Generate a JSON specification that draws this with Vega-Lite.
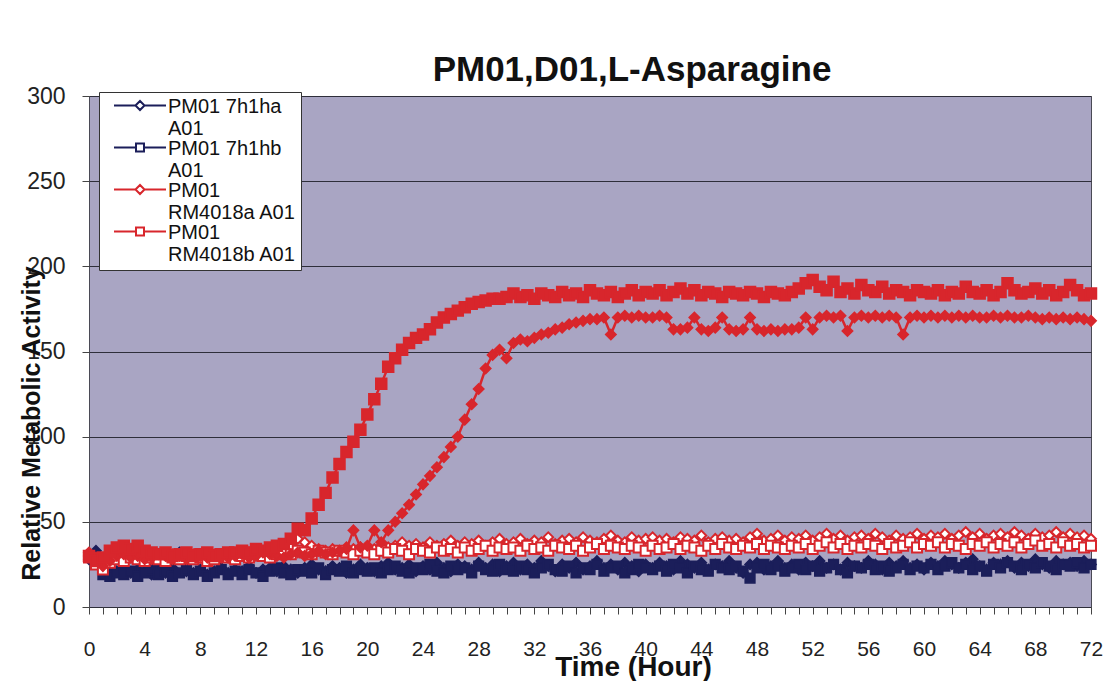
{
"$schema": "https://vega.github.io/schema/vega-lite/v6.json",
"width": 1002, "height": 511,
"autosize": {"type": "none"},
"padding": {"left": 89, "top": 96, "right": 18, "bottom": 74},
"background": "white",
"title": {"text": "PM01,D01,L-Asparagine", "fontSize": 35, "font": "Liberation Sans", "fontWeight": "bold", "color": "#111111", "anchor": "middle", "dx": 42, "offset": -31, "baseline": "alphabetic"},
"config": {
  "view": {"fill": "#A9A5C3", "stroke": "#4a4a55", "strokeWidth": 1},
  "font": "Liberation Sans",
  "legend": {"orient": "none", "legendX": 10, "legendY": -4, "labelFontSize": 20, "labelColor": "#111111", "labelLimit": 0, "symbolSize": 100, "symbolStrokeWidth": 2, "symbolFillColor": "white", "symbolOpacity": 1,
    "symbolOffset": 26, "labelOffset": 18, "padding": 5, "fillColor": "white", "strokeColor": "#333333", "rowPadding": -1}
},
"data": {"values": [
{"s":"A","t":0,"v":28},{"s":"A","t":0.5,"v":33},{"s":"A","t":1,"v":22},{"s":"A","t":1.5,"v":20},{"s":"A","t":2,"v":21},{"s":"A","t":2.5,"v":23},{"s":"A","t":3,"v":20},{"s":"A","t":3.5,"v":22},{"s":"A","t":4,"v":21},{"s":"A","t":4.5,"v":19},{"s":"A","t":5,"v":22},{"s":"A","t":5.5,"v":20},{"s":"A","t":6,"v":23},{"s":"A","t":6.5,"v":32},{"s":"A","t":7,"v":21},{"s":"A","t":7.5,"v":20},{"s":"A","t":8,"v":22},{"s":"A","t":8.5,"v":19},{"s":"A","t":9,"v":21},{"s":"A","t":9.5,"v":23},{"s":"A","t":10,"v":20},
{"s":"A","t":10.5,"v":22},{"s":"A","t":11,"v":21},{"s":"A","t":11.5,"v":24},{"s":"A","t":12,"v":20},{"s":"A","t":12.5,"v":22},{"s":"A","t":13,"v":23},{"s":"A","t":13.5,"v":21},{"s":"A","t":14,"v":24},{"s":"A","t":14.5,"v":22},{"s":"A","t":15,"v":20},{"s":"A","t":15.5,"v":23},{"s":"A","t":16,"v":25},{"s":"A","t":16.5,"v":22},{"s":"A","t":17,"v":21},{"s":"A","t":17.5,"v":24},{"s":"A","t":18,"v":23},{"s":"A","t":18.5,"v":20},{"s":"A","t":19,"v":22},{"s":"A","t":19.5,"v":25},{"s":"A","t":20,"v":23},
{"s":"A","t":20.5,"v":21},{"s":"A","t":21,"v":24},{"s":"A","t":21.5,"v":26},{"s":"A","t":22,"v":22},{"s":"A","t":22.5,"v":23},{"s":"A","t":23,"v":25},{"s":"A","t":23.5,"v":21},{"s":"A","t":24,"v":24},{"s":"A","t":24.5,"v":22},{"s":"A","t":25,"v":26},{"s":"A","t":25.5,"v":23},{"s":"A","t":26,"v":21},{"s":"A","t":26.5,"v":25},{"s":"A","t":27,"v":24},{"s":"A","t":27.5,"v":22},{"s":"A","t":28,"v":26},{"s":"A","t":28.5,"v":23},{"s":"A","t":29,"v":25},{"s":"A","t":29.5,"v":21},{"s":"A","t":30,"v":24},
{"s":"A","t":30.5,"v":26},{"s":"A","t":31,"v":22},{"s":"A","t":31.5,"v":25},{"s":"A","t":32,"v":23},{"s":"A","t":32.5,"v":27},{"s":"A","t":33,"v":24},{"s":"A","t":33.5,"v":21},{"s":"A","t":34,"v":25},{"s":"A","t":34.5,"v":23},{"s":"A","t":35,"v":26},{"s":"A","t":35.5,"v":22},{"s":"A","t":36,"v":24},{"s":"A","t":36.5,"v":27},{"s":"A","t":37,"v":23},{"s":"A","t":37.5,"v":25},{"s":"A","t":38,"v":22},{"s":"A","t":38.5,"v":26},{"s":"A","t":39,"v":24},{"s":"A","t":39.5,"v":21},{"s":"A","t":40,"v":25},
{"s":"A","t":40.5,"v":23},{"s":"A","t":41,"v":26},{"s":"A","t":41.5,"v":24},{"s":"A","t":42,"v":22},{"s":"A","t":42.5,"v":27},{"s":"A","t":43,"v":25},{"s":"A","t":43.5,"v":23},{"s":"A","t":44,"v":26},{"s":"A","t":44.5,"v":22},{"s":"A","t":45,"v":25},{"s":"A","t":45.5,"v":24},{"s":"A","t":46,"v":27},{"s":"A","t":46.5,"v":23},{"s":"A","t":47,"v":20},{"s":"A","t":47.5,"v":25},{"s":"A","t":48,"v":26},{"s":"A","t":48.5,"v":22},{"s":"A","t":49,"v":24},{"s":"A","t":49.5,"v":27},{"s":"A","t":50,"v":23},
{"s":"A","t":50.5,"v":25},{"s":"A","t":51,"v":22},{"s":"A","t":51.5,"v":26},{"s":"A","t":52,"v":24},{"s":"A","t":52.5,"v":27},{"s":"A","t":53,"v":23},{"s":"A","t":53.5,"v":25},{"s":"A","t":54,"v":22},{"s":"A","t":54.5,"v":26},{"s":"A","t":55,"v":24},{"s":"A","t":55.5,"v":23},{"s":"A","t":56,"v":27},{"s":"A","t":56.5,"v":25},{"s":"A","t":57,"v":22},{"s":"A","t":57.5,"v":26},{"s":"A","t":58,"v":24},{"s":"A","t":58.5,"v":27},{"s":"A","t":59,"v":23},{"s":"A","t":59.5,"v":25},{"s":"A","t":60,"v":22},
{"s":"A","t":60.5,"v":26},{"s":"A","t":61,"v":24},{"s":"A","t":61.5,"v":27},{"s":"A","t":62,"v":25},{"s":"A","t":62.5,"v":23},{"s":"A","t":63,"v":26},{"s":"A","t":63.5,"v":28},{"s":"A","t":64,"v":24},{"s":"A","t":64.5,"v":22},{"s":"A","t":65,"v":26},{"s":"A","t":65.5,"v":25},{"s":"A","t":66,"v":27},{"s":"A","t":66.5,"v":23},{"s":"A","t":67,"v":26},{"s":"A","t":67.5,"v":24},{"s":"A","t":68,"v":28},{"s":"A","t":68.5,"v":25},{"s":"A","t":69,"v":23},{"s":"A","t":69.5,"v":27},{"s":"A","t":70,"v":25},
{"s":"A","t":70.5,"v":26},{"s":"A","t":71,"v":24},{"s":"A","t":71.5,"v":27},{"s":"A","t":72,"v":25},
{"s":"B","t":0,"v":30},{"s":"B","t":0.5,"v":26},{"s":"B","t":1,"v":19},{"s":"B","t":1.5,"v":18},{"s":"B","t":2,"v":20},{"s":"B","t":2.5,"v":19},{"s":"B","t":3,"v":21},{"s":"B","t":3.5,"v":18},{"s":"B","t":4,"v":20},{"s":"B","t":4.5,"v":22},{"s":"B","t":5,"v":19},{"s":"B","t":5.5,"v":21},{"s":"B","t":6,"v":18},{"s":"B","t":6.5,"v":20},{"s":"B","t":7,"v":22},{"s":"B","t":7.5,"v":19},{"s":"B","t":8,"v":21},{"s":"B","t":8.5,"v":18},{"s":"B","t":9,"v":20},{"s":"B","t":9.5,"v":22},{"s":"B","t":10,"v":19},
{"s":"B","t":10.5,"v":21},{"s":"B","t":11,"v":19},{"s":"B","t":11.5,"v":22},{"s":"B","t":12,"v":20},{"s":"B","t":12.5,"v":18},{"s":"B","t":13,"v":21},{"s":"B","t":13.5,"v":23},{"s":"B","t":14,"v":20},{"s":"B","t":14.5,"v":19},{"s":"B","t":15,"v":22},{"s":"B","t":15.5,"v":21},{"s":"B","t":16,"v":20},{"s":"B","t":16.5,"v":23},{"s":"B","t":17,"v":19},{"s":"B","t":17.5,"v":22},{"s":"B","t":18,"v":21},{"s":"B","t":18.5,"v":24},{"s":"B","t":19,"v":20},{"s":"B","t":19.5,"v":22},{"s":"B","t":20,"v":21},
{"s":"B","t":20.5,"v":23},{"s":"B","t":21,"v":20},{"s":"B","t":21.5,"v":22},{"s":"B","t":22,"v":24},{"s":"B","t":22.5,"v":21},{"s":"B","t":23,"v":20},{"s":"B","t":23.5,"v":23},{"s":"B","t":24,"v":22},{"s":"B","t":24.5,"v":25},{"s":"B","t":25,"v":21},{"s":"B","t":25.5,"v":20},{"s":"B","t":26,"v":24},{"s":"B","t":26.5,"v":22},{"s":"B","t":27,"v":23},{"s":"B","t":27.5,"v":20},{"s":"B","t":28,"v":24},{"s":"B","t":28.5,"v":22},{"s":"B","t":29,"v":21},{"s":"B","t":29.5,"v":25},{"s":"B","t":30,"v":22},
{"s":"B","t":30.5,"v":21},{"s":"B","t":31,"v":24},{"s":"B","t":31.5,"v":22},{"s":"B","t":32,"v":20},{"s":"B","t":32.5,"v":23},{"s":"B","t":33,"v":25},{"s":"B","t":33.5,"v":22},{"s":"B","t":34,"v":21},{"s":"B","t":34.5,"v":24},{"s":"B","t":35,"v":20},{"s":"B","t":35.5,"v":23},{"s":"B","t":36,"v":22},{"s":"B","t":36.5,"v":25},{"s":"B","t":37,"v":21},{"s":"B","t":37.5,"v":23},{"s":"B","t":38,"v":24},{"s":"B","t":38.5,"v":20},{"s":"B","t":39,"v":22},{"s":"B","t":39.5,"v":25},{"s":"B","t":40,"v":23},
{"s":"B","t":40.5,"v":22},{"s":"B","t":41,"v":24},{"s":"B","t":41.5,"v":21},{"s":"B","t":42,"v":25},{"s":"B","t":42.5,"v":23},{"s":"B","t":43,"v":20},{"s":"B","t":43.5,"v":24},{"s":"B","t":44,"v":22},{"s":"B","t":44.5,"v":21},{"s":"B","t":45,"v":25},{"s":"B","t":45.5,"v":23},{"s":"B","t":46,"v":22},{"s":"B","t":46.5,"v":24},{"s":"B","t":47,"v":21},{"s":"B","t":47.5,"v":17},{"s":"B","t":48,"v":23},{"s":"B","t":48.5,"v":25},{"s":"B","t":49,"v":22},{"s":"B","t":49.5,"v":24},{"s":"B","t":50,"v":21},
{"s":"B","t":50.5,"v":23},{"s":"B","t":51,"v":25},{"s":"B","t":51.5,"v":22},{"s":"B","t":52,"v":24},{"s":"B","t":52.5,"v":21},{"s":"B","t":53,"v":23},{"s":"B","t":53.5,"v":25},{"s":"B","t":54,"v":22},{"s":"B","t":54.5,"v":20},{"s":"B","t":55,"v":24},{"s":"B","t":55.5,"v":23},{"s":"B","t":56,"v":25},{"s":"B","t":56.5,"v":22},{"s":"B","t":57,"v":24},{"s":"B","t":57.5,"v":21},{"s":"B","t":58,"v":23},{"s":"B","t":58.5,"v":25},{"s":"B","t":59,"v":22},{"s":"B","t":59.5,"v":24},{"s":"B","t":60,"v":23},
{"s":"B","t":60.5,"v":25},{"s":"B","t":61,"v":22},{"s":"B","t":61.5,"v":24},{"s":"B","t":62,"v":26},{"s":"B","t":62.5,"v":23},{"s":"B","t":63,"v":25},{"s":"B","t":63.5,"v":22},{"s":"B","t":64,"v":24},{"s":"B","t":64.5,"v":21},{"s":"B","t":65,"v":25},{"s":"B","t":65.5,"v":23},{"s":"B","t":66,"v":26},{"s":"B","t":66.5,"v":24},{"s":"B","t":67,"v":22},{"s":"B","t":67.5,"v":25},{"s":"B","t":68,"v":23},{"s":"B","t":68.5,"v":26},{"s":"B","t":69,"v":24},{"s":"B","t":69.5,"v":22},{"s":"B","t":70,"v":25},
{"s":"B","t":70.5,"v":24},{"s":"B","t":71,"v":26},{"s":"B","t":71.5,"v":23},{"s":"B","t":72,"v":25},
{"s":"C","t":0,"v":32},{"s":"C","t":0.5,"v":29},{"s":"C","t":1,"v":24},{"s":"C","t":1.5,"v":27},{"s":"C","t":2,"v":30},{"s":"C","t":2.5,"v":31},{"s":"C","t":3,"v":29},{"s":"C","t":3.5,"v":30},{"s":"C","t":4,"v":28},{"s":"C","t":4.5,"v":29},{"s":"C","t":5,"v":31},{"s":"C","t":5.5,"v":30},{"s":"C","t":6,"v":28},{"s":"C","t":6.5,"v":30},{"s":"C","t":7,"v":29},{"s":"C","t":7.5,"v":31},{"s":"C","t":8,"v":30},{"s":"C","t":8.5,"v":29},{"s":"C","t":9,"v":31},{"s":"C","t":9.5,"v":30},{"s":"C","t":10,"v":29},
{"s":"C","t":10.5,"v":30},{"s":"C","t":11,"v":31},{"s":"C","t":11.5,"v":29},{"s":"C","t":12,"v":30},{"s":"C","t":12.5,"v":32},{"s":"C","t":13,"v":31},{"s":"C","t":13.5,"v":30},{"s":"C","t":14,"v":29},{"s":"C","t":14.5,"v":31},{"s":"C","t":15,"v":32},{"s":"C","t":15.5,"v":30},{"s":"C","t":16,"v":31},{"s":"C","t":16.5,"v":33},{"s":"C","t":17,"v":31},{"s":"C","t":17.5,"v":32},{"s":"C","t":18,"v":33},{"s":"C","t":18.5,"v":34},{"s":"C","t":19,"v":45},{"s":"C","t":19.5,"v":35},{"s":"C","t":20,"v":36},
{"s":"C","t":20.5,"v":45},{"s":"C","t":21,"v":38},{"s":"C","t":21.5,"v":45},{"s":"C","t":22,"v":50},{"s":"C","t":22.5,"v":55},{"s":"C","t":23,"v":60},{"s":"C","t":23.5,"v":66},{"s":"C","t":24,"v":72},{"s":"C","t":24.5,"v":77},{"s":"C","t":25,"v":82},{"s":"C","t":25.5,"v":88},{"s":"C","t":26,"v":94},{"s":"C","t":26.5,"v":100},{"s":"C","t":27,"v":110},{"s":"C","t":27.5,"v":119},{"s":"C","t":28,"v":128},{"s":"C","t":28.5,"v":140},{"s":"C","t":29,"v":148},{"s":"C","t":29.5,"v":151},{"s":"C","t":30,"v":146},
{"s":"C","t":30.5,"v":155},{"s":"C","t":31,"v":157},{"s":"C","t":31.5,"v":156},{"s":"C","t":32,"v":158},{"s":"C","t":32.5,"v":160},{"s":"C","t":33,"v":161},{"s":"C","t":33.5,"v":163},{"s":"C","t":34,"v":164},{"s":"C","t":34.5,"v":166},{"s":"C","t":35,"v":167},{"s":"C","t":35.5,"v":168},{"s":"C","t":36,"v":169},{"s":"C","t":36.5,"v":169},{"s":"C","t":37,"v":170},{"s":"C","t":37.5,"v":160},{"s":"C","t":38,"v":170},{"s":"C","t":38.5,"v":171},{"s":"C","t":39,"v":170},{"s":"C","t":39.5,"v":171},{"s":"C","t":40,"v":170},
{"s":"C","t":40.5,"v":170},{"s":"C","t":41,"v":171},{"s":"C","t":41.5,"v":170},{"s":"C","t":42,"v":163},{"s":"C","t":42.5,"v":163},{"s":"C","t":43,"v":164},{"s":"C","t":43.5,"v":170},{"s":"C","t":44,"v":163},{"s":"C","t":44.5,"v":162},{"s":"C","t":45,"v":164},{"s":"C","t":45.5,"v":170},{"s":"C","t":46,"v":163},{"s":"C","t":46.5,"v":162},{"s":"C","t":47,"v":163},{"s":"C","t":47.5,"v":170},{"s":"C","t":48,"v":163},{"s":"C","t":48.5,"v":162},{"s":"C","t":49,"v":163},{"s":"C","t":49.5,"v":162},{"s":"C","t":50,"v":163},
{"s":"C","t":50.5,"v":163},{"s":"C","t":51,"v":164},{"s":"C","t":51.5,"v":170},{"s":"C","t":52,"v":163},{"s":"C","t":52.5,"v":170},{"s":"C","t":53,"v":171},{"s":"C","t":53.5,"v":170},{"s":"C","t":54,"v":171},{"s":"C","t":54.5,"v":162},{"s":"C","t":55,"v":170},{"s":"C","t":55.5,"v":171},{"s":"C","t":56,"v":170},{"s":"C","t":56.5,"v":171},{"s":"C","t":57,"v":170},{"s":"C","t":57.5,"v":171},{"s":"C","t":58,"v":170},{"s":"C","t":58.5,"v":160},{"s":"C","t":59,"v":170},{"s":"C","t":59.5,"v":171},{"s":"C","t":60,"v":170},
{"s":"C","t":60.5,"v":171},{"s":"C","t":61,"v":170},{"s":"C","t":61.5,"v":171},{"s":"C","t":62,"v":170},{"s":"C","t":62.5,"v":171},{"s":"C","t":63,"v":170},{"s":"C","t":63.5,"v":171},{"s":"C","t":64,"v":170},{"s":"C","t":64.5,"v":170},{"s":"C","t":65,"v":171},{"s":"C","t":65.5,"v":170},{"s":"C","t":66,"v":171},{"s":"C","t":66.5,"v":170},{"s":"C","t":67,"v":170},{"s":"C","t":67.5,"v":171},{"s":"C","t":68,"v":170},{"s":"C","t":68.5,"v":169},{"s":"C","t":69,"v":170},{"s":"C","t":69.5,"v":169},{"s":"C","t":70,"v":170},
{"s":"C","t":70.5,"v":169},{"s":"C","t":71,"v":170},{"s":"C","t":71.5,"v":169},{"s":"C","t":72,"v":168},
{"s":"D","t":0,"v":30},{"s":"D","t":0.5,"v":27},{"s":"D","t":1,"v":29},{"s":"D","t":1.5,"v":33},{"s":"D","t":2,"v":35},{"s":"D","t":2.5,"v":36},{"s":"D","t":3,"v":34},{"s":"D","t":3.5,"v":36},{"s":"D","t":4,"v":33},{"s":"D","t":4.5,"v":32},{"s":"D","t":5,"v":31},{"s":"D","t":5.5,"v":32},{"s":"D","t":6,"v":30},{"s":"D","t":6.5,"v":31},{"s":"D","t":7,"v":32},{"s":"D","t":7.5,"v":30},{"s":"D","t":8,"v":31},{"s":"D","t":8.5,"v":32},{"s":"D","t":9,"v":30},{"s":"D","t":9.5,"v":31},{"s":"D","t":10,"v":32},
{"s":"D","t":10.5,"v":32},{"s":"D","t":11,"v":33},{"s":"D","t":11.5,"v":32},{"s":"D","t":12,"v":34},{"s":"D","t":12.5,"v":33},{"s":"D","t":13,"v":35},{"s":"D","t":13.5,"v":36},{"s":"D","t":14,"v":37},{"s":"D","t":14.5,"v":40},{"s":"D","t":15,"v":46},{"s":"D","t":15.5,"v":45},{"s":"D","t":16,"v":52},{"s":"D","t":16.5,"v":60},{"s":"D","t":17,"v":67},{"s":"D","t":17.5,"v":76},{"s":"D","t":18,"v":84},{"s":"D","t":18.5,"v":91},{"s":"D","t":19,"v":97},{"s":"D","t":19.5,"v":104},{"s":"D","t":20,"v":113},
{"s":"D","t":20.5,"v":122},{"s":"D","t":21,"v":131},{"s":"D","t":21.5,"v":141},{"s":"D","t":22,"v":146},{"s":"D","t":22.5,"v":151},{"s":"D","t":23,"v":155},{"s":"D","t":23.5,"v":158},{"s":"D","t":24,"v":160},{"s":"D","t":24.5,"v":163},{"s":"D","t":25,"v":167},{"s":"D","t":25.5,"v":170},{"s":"D","t":26,"v":172},{"s":"D","t":26.5,"v":174},{"s":"D","t":27,"v":176},{"s":"D","t":27.5,"v":178},{"s":"D","t":28,"v":179},{"s":"D","t":28.5,"v":180},{"s":"D","t":29,"v":181},{"s":"D","t":29.5,"v":181},{"s":"D","t":30,"v":182},
{"s":"D","t":30.5,"v":184},{"s":"D","t":31,"v":182},{"s":"D","t":31.5,"v":183},{"s":"D","t":32,"v":181},{"s":"D","t":32.5,"v":184},{"s":"D","t":33,"v":183},{"s":"D","t":33.5,"v":182},{"s":"D","t":34,"v":185},{"s":"D","t":34.5,"v":183},{"s":"D","t":35,"v":184},{"s":"D","t":35.5,"v":182},{"s":"D","t":36,"v":186},{"s":"D","t":36.5,"v":184},{"s":"D","t":37,"v":183},{"s":"D","t":37.5,"v":185},{"s":"D","t":38,"v":182},{"s":"D","t":38.5,"v":184},{"s":"D","t":39,"v":186},{"s":"D","t":39.5,"v":183},{"s":"D","t":40,"v":185},
{"s":"D","t":40.5,"v":184},{"s":"D","t":41,"v":186},{"s":"D","t":41.5,"v":183},{"s":"D","t":42,"v":185},{"s":"D","t":42.5,"v":187},{"s":"D","t":43,"v":184},{"s":"D","t":43.5,"v":186},{"s":"D","t":44,"v":183},{"s":"D","t":44.5,"v":185},{"s":"D","t":45,"v":184},{"s":"D","t":45.5,"v":182},{"s":"D","t":46,"v":185},{"s":"D","t":46.5,"v":184},{"s":"D","t":47,"v":183},{"s":"D","t":47.5,"v":185},{"s":"D","t":48,"v":184},{"s":"D","t":48.5,"v":182},{"s":"D","t":49,"v":185},{"s":"D","t":49.5,"v":184},{"s":"D","t":50,"v":183},
{"s":"D","t":50.5,"v":185},{"s":"D","t":51,"v":187},{"s":"D","t":51.5,"v":190},{"s":"D","t":52,"v":192},{"s":"D","t":52.5,"v":188},{"s":"D","t":53,"v":186},{"s":"D","t":53.5,"v":191},{"s":"D","t":54,"v":185},{"s":"D","t":54.5,"v":187},{"s":"D","t":55,"v":184},{"s":"D","t":55.5,"v":189},{"s":"D","t":56,"v":186},{"s":"D","t":56.5,"v":185},{"s":"D","t":57,"v":188},{"s":"D","t":57.5,"v":184},{"s":"D","t":58,"v":186},{"s":"D","t":58.5,"v":185},{"s":"D","t":59,"v":183},{"s":"D","t":59.5,"v":186},{"s":"D","t":60,"v":185},
{"s":"D","t":60.5,"v":184},{"s":"D","t":61,"v":186},{"s":"D","t":61.5,"v":183},{"s":"D","t":62,"v":185},{"s":"D","t":62.5,"v":184},{"s":"D","t":63,"v":188},{"s":"D","t":63.5,"v":185},{"s":"D","t":64,"v":184},{"s":"D","t":64.5,"v":186},{"s":"D","t":65,"v":183},{"s":"D","t":65.5,"v":185},{"s":"D","t":66,"v":190},{"s":"D","t":66.5,"v":186},{"s":"D","t":67,"v":184},{"s":"D","t":67.5,"v":185},{"s":"D","t":68,"v":187},{"s":"D","t":68.5,"v":184},{"s":"D","t":69,"v":186},{"s":"D","t":69.5,"v":183},{"s":"D","t":70,"v":185},
{"s":"D","t":70.5,"v":189},{"s":"D","t":71,"v":186},{"s":"D","t":71.5,"v":183},{"s":"D","t":72,"v":184},
{"s":"E","t":0,"v":30},{"s":"E","t":0.5,"v":27},{"s":"E","t":1,"v":25},{"s":"E","t":1.5,"v":29},{"s":"E","t":2,"v":32},{"s":"E","t":2.5,"v":30},{"s":"E","t":3,"v":31},{"s":"E","t":3.5,"v":29},{"s":"E","t":4,"v":30},{"s":"E","t":4.5,"v":28},{"s":"E","t":5,"v":30},{"s":"E","t":5.5,"v":29},{"s":"E","t":6,"v":31},{"s":"E","t":6.5,"v":30},{"s":"E","t":7,"v":28},{"s":"E","t":7.5,"v":30},{"s":"E","t":8,"v":29},{"s":"E","t":8.5,"v":31},{"s":"E","t":9,"v":30},{"s":"E","t":9.5,"v":29},{"s":"E","t":10,"v":31},
{"s":"E","t":10.5,"v":30},{"s":"E","t":11,"v":31},{"s":"E","t":11.5,"v":32},{"s":"E","t":12,"v":31},{"s":"E","t":12.5,"v":33},{"s":"E","t":13,"v":32},{"s":"E","t":13.5,"v":34},{"s":"E","t":14,"v":33},{"s":"E","t":14.5,"v":35},{"s":"E","t":15,"v":40},{"s":"E","t":15.5,"v":38},{"s":"E","t":16,"v":36},{"s":"E","t":16.5,"v":34},{"s":"E","t":17,"v":33},{"s":"E","t":17.5,"v":34},{"s":"E","t":18,"v":33},{"s":"E","t":18.5,"v":35},{"s":"E","t":19,"v":34},{"s":"E","t":19.5,"v":35},{"s":"E","t":20,"v":34},
{"s":"E","t":20.5,"v":34},{"s":"E","t":21,"v":36},{"s":"E","t":21.5,"v":35},{"s":"E","t":22,"v":36},{"s":"E","t":22.5,"v":38},{"s":"E","t":23,"v":36},{"s":"E","t":23.5,"v":37},{"s":"E","t":24,"v":35},{"s":"E","t":24.5,"v":38},{"s":"E","t":25,"v":36},{"s":"E","t":25.5,"v":37},{"s":"E","t":26,"v":39},{"s":"E","t":26.5,"v":36},{"s":"E","t":27,"v":38},{"s":"E","t":27.5,"v":37},{"s":"E","t":28,"v":39},{"s":"E","t":28.5,"v":36},{"s":"E","t":29,"v":38},{"s":"E","t":29.5,"v":40},{"s":"E","t":30,"v":37},
{"s":"E","t":30.5,"v":38},{"s":"E","t":31,"v":40},{"s":"E","t":31.5,"v":37},{"s":"E","t":32,"v":39},{"s":"E","t":32.5,"v":38},{"s":"E","t":33,"v":41},{"s":"E","t":33.5,"v":37},{"s":"E","t":34,"v":39},{"s":"E","t":34.5,"v":40},{"s":"E","t":35,"v":38},{"s":"E","t":35.5,"v":41},{"s":"E","t":36,"v":39},{"s":"E","t":36.5,"v":38},{"s":"E","t":37,"v":40},{"s":"E","t":37.5,"v":42},{"s":"E","t":38,"v":39},{"s":"E","t":38.5,"v":38},{"s":"E","t":39,"v":41},{"s":"E","t":39.5,"v":39},{"s":"E","t":40,"v":40},
{"s":"E","t":40.5,"v":41},{"s":"E","t":41,"v":39},{"s":"E","t":41.5,"v":40},{"s":"E","t":42,"v":38},{"s":"E","t":42.5,"v":41},{"s":"E","t":43,"v":40},{"s":"E","t":43.5,"v":39},{"s":"E","t":44,"v":42},{"s":"E","t":44.5,"v":38},{"s":"E","t":45,"v":40},{"s":"E","t":45.5,"v":41},{"s":"E","t":46,"v":39},{"s":"E","t":46.5,"v":40},{"s":"E","t":47,"v":38},{"s":"E","t":47.5,"v":41},{"s":"E","t":48,"v":43},{"s":"E","t":48.5,"v":39},{"s":"E","t":49,"v":40},{"s":"E","t":49.5,"v":42},{"s":"E","t":50,"v":39},
{"s":"E","t":50.5,"v":41},{"s":"E","t":51,"v":40},{"s":"E","t":51.5,"v":42},{"s":"E","t":52,"v":39},{"s":"E","t":52.5,"v":41},{"s":"E","t":53,"v":43},{"s":"E","t":53.5,"v":40},{"s":"E","t":54,"v":42},{"s":"E","t":54.5,"v":39},{"s":"E","t":55,"v":41},{"s":"E","t":55.5,"v":42},{"s":"E","t":56,"v":40},{"s":"E","t":56.5,"v":43},{"s":"E","t":57,"v":41},{"s":"E","t":57.5,"v":39},{"s":"E","t":58,"v":42},{"s":"E","t":58.5,"v":40},{"s":"E","t":59,"v":41},{"s":"E","t":59.5,"v":43},{"s":"E","t":60,"v":40},
{"s":"E","t":60.5,"v":42},{"s":"E","t":61,"v":41},{"s":"E","t":61.5,"v":43},{"s":"E","t":62,"v":40},{"s":"E","t":62.5,"v":42},{"s":"E","t":63,"v":44},{"s":"E","t":63.5,"v":41},{"s":"E","t":64,"v":43},{"s":"E","t":64.5,"v":40},{"s":"E","t":65,"v":42},{"s":"E","t":65.5,"v":43},{"s":"E","t":66,"v":41},{"s":"E","t":66.5,"v":44},{"s":"E","t":67,"v":42},{"s":"E","t":67.5,"v":40},{"s":"E","t":68,"v":43},{"s":"E","t":68.5,"v":41},{"s":"E","t":69,"v":42},{"s":"E","t":69.5,"v":44},{"s":"E","t":70,"v":41},
{"s":"E","t":70.5,"v":43},{"s":"E","t":71,"v":41},{"s":"E","t":71.5,"v":42},{"s":"E","t":72,"v":40},
{"s":"F","t":0,"v":29},{"s":"F","t":0.5,"v":25},{"s":"F","t":1,"v":22},{"s":"F","t":1.5,"v":26},{"s":"F","t":2,"v":28},{"s":"F","t":2.5,"v":27},{"s":"F","t":3,"v":29},{"s":"F","t":3.5,"v":28},{"s":"F","t":4,"v":27},{"s":"F","t":4.5,"v":29},{"s":"F","t":5,"v":28},{"s":"F","t":5.5,"v":27},{"s":"F","t":6,"v":29},{"s":"F","t":6.5,"v":28},{"s":"F","t":7,"v":30},{"s":"F","t":7.5,"v":28},{"s":"F","t":8,"v":29},{"s":"F","t":8.5,"v":27},{"s":"F","t":9,"v":28},{"s":"F","t":9.5,"v":30},{"s":"F","t":10,"v":29},
{"s":"F","t":10.5,"v":28},{"s":"F","t":11,"v":30},{"s":"F","t":11.5,"v":29},{"s":"F","t":12,"v":31},{"s":"F","t":12.5,"v":30},{"s":"F","t":13,"v":29},{"s":"F","t":13.5,"v":31},{"s":"F","t":14,"v":32},{"s":"F","t":14.5,"v":31},{"s":"F","t":15,"v":33},{"s":"F","t":15.5,"v":32},{"s":"F","t":16,"v":31},{"s":"F","t":16.5,"v":33},{"s":"F","t":17,"v":32},{"s":"F","t":17.5,"v":31},{"s":"F","t":18,"v":33},{"s":"F","t":18.5,"v":32},{"s":"F","t":19,"v":31},{"s":"F","t":19.5,"v":33},{"s":"F","t":20,"v":32},
{"s":"F","t":20.5,"v":31},{"s":"F","t":21,"v":33},{"s":"F","t":21.5,"v":32},{"s":"F","t":22,"v":34},{"s":"F","t":22.5,"v":33},{"s":"F","t":23,"v":31},{"s":"F","t":23.5,"v":34},{"s":"F","t":24,"v":33},{"s":"F","t":24.5,"v":32},{"s":"F","t":25,"v":35},{"s":"F","t":25.5,"v":33},{"s":"F","t":26,"v":34},{"s":"F","t":26.5,"v":32},{"s":"F","t":27,"v":35},{"s":"F","t":27.5,"v":33},{"s":"F","t":28,"v":34},{"s":"F","t":28.5,"v":36},{"s":"F","t":29,"v":33},{"s":"F","t":29.5,"v":35},{"s":"F","t":30,"v":34},
{"s":"F","t":30.5,"v":35},{"s":"F","t":31,"v":33},{"s":"F","t":31.5,"v":36},{"s":"F","t":32,"v":34},{"s":"F","t":32.5,"v":35},{"s":"F","t":33,"v":33},{"s":"F","t":33.5,"v":36},{"s":"F","t":34,"v":35},{"s":"F","t":34.5,"v":34},{"s":"F","t":35,"v":36},{"s":"F","t":35.5,"v":33},{"s":"F","t":36,"v":35},{"s":"F","t":36.5,"v":37},{"s":"F","t":37,"v":34},{"s":"F","t":37.5,"v":36},{"s":"F","t":38,"v":35},{"s":"F","t":38.5,"v":34},{"s":"F","t":39,"v":36},{"s":"F","t":39.5,"v":35},{"s":"F","t":40,"v":33},
{"s":"F","t":40.5,"v":36},{"s":"F","t":41,"v":34},{"s":"F","t":41.5,"v":35},{"s":"F","t":42,"v":37},{"s":"F","t":42.5,"v":34},{"s":"F","t":43,"v":36},{"s":"F","t":43.5,"v":35},{"s":"F","t":44,"v":33},{"s":"F","t":44.5,"v":36},{"s":"F","t":45,"v":34},{"s":"F","t":45.5,"v":37},{"s":"F","t":46,"v":35},{"s":"F","t":46.5,"v":34},{"s":"F","t":47,"v":36},{"s":"F","t":47.5,"v":35},{"s":"F","t":48,"v":37},{"s":"F","t":48.5,"v":34},{"s":"F","t":49,"v":36},{"s":"F","t":49.5,"v":35},{"s":"F","t":50,"v":34},
{"s":"F","t":50.5,"v":36},{"s":"F","t":51,"v":35},{"s":"F","t":51.5,"v":37},{"s":"F","t":52,"v":34},{"s":"F","t":52.5,"v":36},{"s":"F","t":53,"v":38},{"s":"F","t":53.5,"v":35},{"s":"F","t":54,"v":37},{"s":"F","t":54.5,"v":34},{"s":"F","t":55,"v":36},{"s":"F","t":55.5,"v":35},{"s":"F","t":56,"v":37},{"s":"F","t":56.5,"v":36},{"s":"F","t":57,"v":34},{"s":"F","t":57.5,"v":37},{"s":"F","t":58,"v":35},{"s":"F","t":58.5,"v":36},{"s":"F","t":59,"v":38},{"s":"F","t":59.5,"v":35},{"s":"F","t":60,"v":37},
{"s":"F","t":60.5,"v":36},{"s":"F","t":61,"v":38},{"s":"F","t":61.5,"v":35},{"s":"F","t":62,"v":37},{"s":"F","t":62.5,"v":36},{"s":"F","t":63,"v":34},{"s":"F","t":63.5,"v":37},{"s":"F","t":64,"v":36},{"s":"F","t":64.5,"v":38},{"s":"F","t":65,"v":35},{"s":"F","t":65.5,"v":37},{"s":"F","t":66,"v":36},{"s":"F","t":66.5,"v":38},{"s":"F","t":67,"v":35},{"s":"F","t":67.5,"v":37},{"s":"F","t":68,"v":39},{"s":"F","t":68.5,"v":36},{"s":"F","t":69,"v":37},{"s":"F","t":69.5,"v":35},{"s":"F","t":70,"v":38},
{"s":"F","t":70.5,"v":36},{"s":"F","t":71,"v":37},{"s":"F","t":71.5,"v":35},{"s":"F","t":72,"v":36}
]},
"encoding": {
  "x": {"field": "t", "type": "quantitative", "scale": {"domain": [0, 72], "nice": false, "zero": false},
    "axis": {"values": [0,1,2,3,4,5,6,7,8,9,10,11,12,13,14,15,16,17,18,19,20,21,22,23,24,25,26,27,28,29,30,31,32,33,34,35,36,37,38,39,40,41,42,43,44,45,46,47,48,49,50,51,52,53,54,55,56,57,58,59,60,61,62,63,64,65,66,67,68,69,70,71,72],
      "labelExpr": "datum.value % 4 === 0 ? datum.label : ''", "labelFontSize": 21, "labelColor": "#222222", "labelPadding": 24, "labelOverlap": false, "labelFlush": false,
      "tickSize": 7, "tickColor": "#444444", "domain": false, "grid": false,
      "title": "Time (Hour)", "titleFontSize": 28, "titleFontWeight": "bold", "titleColor": "#111111", "titleX": 544, "titleY": 68, "titleBaseline": "alphabetic", "titleAlign": "center"}},
  "y": {"field": "v", "type": "quantitative", "scale": {"domain": [0, 300], "nice": false},
    "axis": {"values": [0,50,100,150,200,250,300], "grid": true, "gridColor": "#2e2e3a", "gridWidth": 1, "labelFontSize": 23, "labelColor": "#222222", "labelPadding": 17,
      "tickSize": 7, "tickColor": "#444444", "domain": false,
      "title": "Relative Metabolic Activity", "titleFontSize": 25, "titleFontWeight": "bold", "titleColor": "#111111", "titleX": -58, "titleY": 327, "titleAngle": -90, "titleAlign": "center", "titleBaseline": "middle"}}
},
"layer": [
  {"mark": {"type": "line", "strokeWidth": 2.5},
   "encoding": {"stroke": {"field": "s", "type": "nominal", "scale": {"domain": ["A","B","C","D","E","F"], "range": ["#1B1E5A","#1B1E5A","#D8262C","#D8262C","#D8262C","#D8262C"]}}}},
  {"transform": [{"filter": {"field": "s", "oneOf": ["A"]}}],
   "mark": {"type": "point", "shape": "diamond", "size": 105, "strokeWidth": 1.5, "opacity": 1, "filled": true, "fill": "#1B1E5A"},
   "encoding": {"stroke": {"field": "s", "type": "nominal"}}},
  {"transform": [{"filter": {"field": "s", "oneOf": ["B"]}}],
   "mark": {"type": "point", "shape": "square", "size": 95, "strokeWidth": 1.5, "opacity": 1, "filled": true, "fill": "#1B1E5A"},
   "encoding": {"stroke": {"field": "s", "type": "nominal"}}},
  {"transform": [{"filter": {"field": "s", "oneOf": ["E"]}}],
   "mark": {"type": "point", "shape": "diamond", "size": 95, "strokeWidth": 2, "opacity": 1, "filled": true, "fill": "#FFFFFF"},
   "encoding": {"stroke": {"field": "s", "type": "nominal"}}},
  {"transform": [{"filter": {"field": "s", "oneOf": ["F"]}}],
   "mark": {"type": "point", "shape": "square", "size": 100, "strokeWidth": 2, "opacity": 1, "filled": true, "fill": "#FFFFFF"},
   "encoding": {"stroke": {"field": "s", "type": "nominal"}}},
  {"transform": [{"filter": {"field": "s", "oneOf": ["C"]}}],
   "mark": {"type": "point", "shape": "diamond", "size": 95, "strokeWidth": 2, "opacity": 1, "filled": true, "fill": "#D8262C"},
   "encoding": {"stroke": {"field": "s", "type": "nominal"}}},
  {"transform": [{"filter": {"field": "s", "oneOf": ["D"]}}],
   "mark": {"type": "point", "shape": "square", "size": 110, "strokeWidth": 2, "opacity": 1, "filled": true, "fill": "#D8262C"},
   "encoding": {"stroke": {"field": "s", "type": "nominal"}}},
  {"transform": [{"filter": {"field": "t", "lt": -10}}],
   "mark": {"type": "point", "filled": true, "opacity": 1},
   "encoding": {
     "stroke": {"field": "s", "type": "nominal",
       "legend": {"values": ["A","B","C","D"], "title": null,
         "labelExpr": "datum.value == 'A' ? ['PM01 7h1ha', 'A01'] : datum.value == 'B' ? ['PM01 7h1hb', 'A01'] : datum.value == 'C' ? ['PM01', 'RM4018a A01'] : ['PM01', 'RM4018b A01']"}},
     "fill": {"field": "s", "type": "nominal",
       "scale": {"domain": ["A","B","C","D","E","F"], "range": ["#FFFFFF","#FFFFFF","#FFFFFF","#FFFFFF","#FFFFFF","#FFFFFF"]},
       "legend": {"values": ["A","B","C","D"], "title": null,
         "labelExpr": "datum.value == 'A' ? ['PM01 7h1ha', 'A01'] : datum.value == 'B' ? ['PM01 7h1hb', 'A01'] : datum.value == 'C' ? ['PM01', 'RM4018a A01'] : ['PM01', 'RM4018b A01']"}},
     "shape": {"field": "s", "type": "nominal",
       "scale": {"domain": ["A","B","C","D","E","F"], "range": [
         "M-5.2,-0.3H-0.9M0.9,-0.3H5.2M-0.9,-0.3L0,-1.2L0.9,-0.3L0,0.6Z",
         "M-5.2,-0.3H-0.8M0.8,-0.3H5.2M-0.8,-1.1H0.8V0.5H-0.8Z",
         "M-5.2,-0.3H-0.9M0.9,-0.3H5.2M-0.9,-0.3L0,-1.2L0.9,-0.3L0,0.6Z",
         "M-5.2,-0.3H-0.8M0.8,-0.3H5.2M-0.8,-1.1H0.8V0.5H-0.8Z",
         "M-5.2,-0.3H-0.9M0.9,-0.3H5.2M-0.9,-0.3L0,-1.2L0.9,-0.3L0,0.6Z",
         "M-5.2,-0.3H-0.8M0.8,-0.3H5.2M-0.8,-1.1H0.8V0.5H-0.8Z"]},
       "legend": {"values": ["A","B","C","D"], "title": null,
         "labelExpr": "datum.value == 'A' ? ['PM01 7h1ha', 'A01'] : datum.value == 'B' ? ['PM01 7h1hb', 'A01'] : datum.value == 'C' ? ['PM01', 'RM4018a A01'] : ['PM01', 'RM4018b A01']"}}
   }}
]
}
